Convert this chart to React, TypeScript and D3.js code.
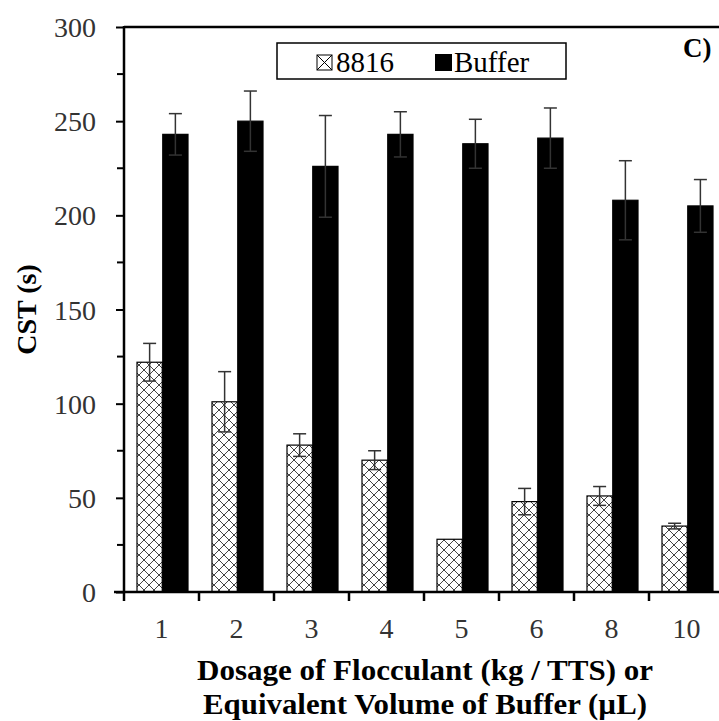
import React, { useEffect, useRef } from "react";
import * as d3 from "d3";

const categories = ["1", "2", "3", "4", "5", "6", "8", "10"];
const series = ["8816", "Buffer"];
const values8816 = [122, 101, 78, 70, 28, 48, 51, 35];
const err8816 = [10, 16, 6, 5, 0, 7, 5, 1.5];
const valuesBuffer = [243, 250, 226, 243, 238, 241, 208, 205];
const errBuffer = [11, 16, 27, 12, 13, 16, 21, 14];
const yTicks = [0, 50, 100, 150, 200, 250, 300];
const yMinor = [25, 75, 125, 175, 225, 275];

const FONT = "Liberation Serif, Times New Roman, serif";

export default function App() {
  const ref = useRef<SVGSVGElement>(null);

  useEffect(() => {
    const svg = d3.select(ref.current);
    svg.selectAll("*").remove();

    const left = 124, top = 27, bottom = 592, right = 724;

    const x = d3.scaleBand().domain(categories).range([left, right]);
    const x1 = d3.scaleBand().domain(series).range([13, 64]).paddingInner(0.02);
    const y = d3.scaleLinear().domain([0, 300]).range([bottom, top]);

    const defs = svg.append("defs");
    const pat = defs
      .append("pattern")
      .attr("id", "hatch")
      .attr("patternUnits", "userSpaceOnUse")
      .attr("width", 10)
      .attr("height", 10);
    pat.append("rect").attr("width", 10).attr("height", 10).attr("fill", "#fff");
    pat.append("path").attr("d", "M0,0L10,10M10,0L0,10").attr("stroke", "#444").attr("stroke-width", 1);

    const data = categories.map((c, i) => ({
      c,
      rows: [
        { s: "8816", v: values8816[i], e: err8816[i] },
        { s: "Buffer", v: valuesBuffer[i], e: errBuffer[i] },
      ],
    }));

    const groups = svg
      .append("g")
      .selectAll(".grp")
      .data(data)
      .join("g")
      .attr("class", "grp")
      .attr("transform", (d) => `translate(${x(d.c)},0)`);

    groups
      .selectAll("rect")
      .data((d) => d.rows)
      .join("rect")
      .attr("x", (d) => x1(d.s)!)
      .attr("width", x1.bandwidth())
      .attr("y", (d) => y(d.v))
      .attr("height", (d) => bottom - y(d.v))
      .attr("fill", (d) => (d.s === "8816" ? "url(#hatch)" : "#000"))
      .attr("stroke", "#000")
      .attr("stroke-width", 1.2);

    // error bars
    const eb = groups
      .selectAll(".eb")
      .data((d) => d.rows.filter((r) => r.e > 0))
      .join("g")
      .attr("class", "eb")
      .attr("transform", (d) => `translate(${x1(d.s)! + x1.bandwidth() / 2},0)`);
    eb.append("line")
      .attr("y1", (d) => y(d.v - d.e))
      .attr("y2", (d) => y(d.v + d.e))
      .attr("stroke", "#333")
      .attr("stroke-width", 1.5);
    eb.selectAll(".cap")
      .data((d) => [d.v - d.e, d.v + d.e])
      .join("line")
      .attr("class", "cap")
      .attr("x1", -6.5)
      .attr("x2", 6.5)
      .attr("y1", (v) => y(v))
      .attr("y2", (v) => y(v))
      .attr("stroke", "#333")
      .attr("stroke-width", 1.5);

    // y axis
    const yAxis = svg.append("g").attr("transform", `translate(${left},0)`);
    yAxis
      .call(d3.axisLeft(y).tickValues(yTicks).tickSize(8).tickPadding(20))
      .call((a) => a.select(".domain").remove());
    yAxis.attr("font-family", null).attr("font-size", null);
    yAxis.selectAll(".tick line").attr("stroke", "#000").attr("stroke-width", 2);
    yAxis
      .selectAll(".tick text")
      .attr("dy", "0.34em")
      .style("font-family", FONT)
      .style("font-size", "28px")
      .attr("fill", "#333");
    yAxis
      .selectAll(".minor")
      .data(yMinor)
      .join("line")
      .attr("class", "minor")
      .attr("x1", -7)
      .attr("x2", 0)
      .attr("y1", (d) => y(d))
      .attr("y2", (d) => y(d))
      .attr("stroke", "#000")
      .attr("stroke-width", 2);

    // x axis ticks at category boundaries
    svg
      .selectAll(".xt")
      .data(categories)
      .join("line")
      .attr("class", "xt")
      .attr("x1", (d) => x(d)!)
      .attr("x2", (d) => x(d)!)
      .attr("y1", bottom)
      .attr("y2", bottom + 9)
      .attr("stroke", "#000")
      .attr("stroke-width", 2.5);
    svg
      .selectAll(".xl")
      .data(categories)
      .join("text")
      .attr("class", "xl")
      .attr("x", (d) => x(d)! + x.bandwidth() / 2)
      .attr("y", 638)
      .attr("text-anchor", "middle")
      .style("font-family", FONT)
      .style("font-size", "28px")
      .attr("fill", "#333")
      .text((d) => d);

    // frame lines
    svg.append("line").attr("x1", left).attr("x2", left).attr("y1", top - 1).attr("y2", bottom + 1)
      .attr("stroke", "#000").attr("stroke-width", 2.5);
    svg.append("line").attr("x1", 114).attr("x2", 719).attr("y1", bottom).attr("y2", bottom)
      .attr("stroke", "#000").attr("stroke-width", 2.5);
    svg.append("line").attr("x1", left).attr("x2", 719).attr("y1", top).attr("y2", top)
      .attr("stroke", "#000").attr("stroke-width", 2.5);

    // axis titles
    svg.append("text")
      .attr("transform", `translate(36,${(top + bottom) / 2}) rotate(-90)`)
      .attr("text-anchor", "middle")
      .style("font-family", FONT)
      .style("font-weight", "bold")
      .style("font-size", "28px")
      .text("CST (s)");
    svg.append("text")
      .attr("x", 425).attr("y", 680)
      .attr("text-anchor", "middle")
      .attr("textLength", 456).attr("lengthAdjust", "spacingAndGlyphs")
      .style("font-family", FONT).style("font-weight", "bold").style("font-size", "29px")
      .text("Dosage of Flocculant (kg / TTS) or");
    svg.append("text")
      .attr("x", 425).attr("y", 714)
      .attr("text-anchor", "middle")
      .attr("textLength", 444).attr("lengthAdjust", "spacingAndGlyphs")
      .style("font-family", FONT).style("font-weight", "bold").style("font-size", "29px")
      .text("Equivalent Volume of Buffer (\u00b5L)");

    svg.append("text")
      .attr("x", 683).attr("y", 57)
      .style("font-family", FONT).style("font-weight", "bold").style("font-size", "27px")
      .text("C)");

    // legend
    const lg = svg.append("g");
    lg.append("rect").attr("x", 277).attr("y", 43).attr("width", 289).attr("height", 36)
      .attr("fill", "#fff").attr("stroke", "#000").attr("stroke-width", 1.5);
    lg.append("rect").attr("x", 317).attr("y", 55).attr("width", 15).attr("height", 15)
      .attr("fill", "#fff").attr("stroke", "#000").attr("stroke-width", 1);
    lg.append("path").attr("d", "M317,55L332,70M332,55L317,70").attr("stroke", "#000").attr("stroke-width", 1);
    lg.append("text").attr("x", 336).attr("y", 72)
      .style("font-family", FONT).style("font-size", "29px").text(series[0]);
    lg.append("rect").attr("x", 435).attr("y", 54).attr("width", 17).attr("height", 17).attr("fill", "#000");
    lg.append("text").attr("x", 454).attr("y", 72)
      .style("font-family", FONT).style("font-size", "29px").text(series[1]);
  }, []);

  return <svg ref={ref} width={719} height={721} style={{ position: "absolute", left: 0, top: 0 }} />;
}
